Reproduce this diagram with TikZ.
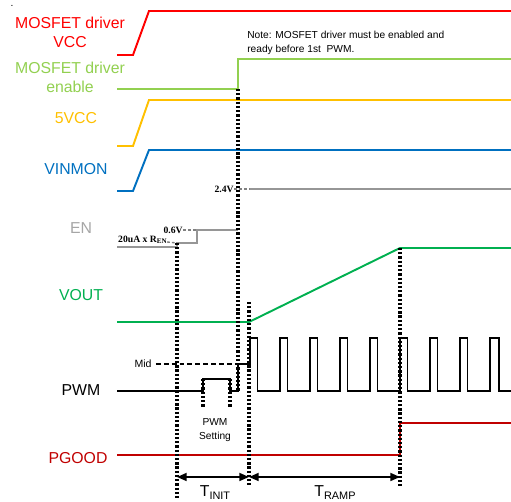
\documentclass[tikz,border=0pt]{standalone}
\usepackage{fontspec}
\setmainfont{Liberation Sans}
\newfontfamily\tnr{Liberation Serif}
\usepackage{tikz}
\usetikzlibrary{arrows.meta}
\definecolor{vccred}{HTML}{FF0000}
\definecolor{enlime}{HTML}{92D050}
\definecolor{fivegold}{HTML}{FFC000}
\definecolor{vinblue}{HTML}{0070C0}
\definecolor{engrey}{HTML}{969696}
\definecolor{enlabel}{HTML}{A6A6A6}
\definecolor{voutgreen}{HTML}{00B050}
\definecolor{pgred}{HTML}{C00000}
\newcommand{\sub}[1]{\raisebox{-0.35ex}{\fontsize{6.2}{7}\selectfont #1}}

\begin{document}
\begin{tikzpicture}[x=0.02cm,y=-0.02cm,
 sig/.style={line width=1.1pt},
 lbl/.style={font=\fontsize{9}{10.8}\selectfont,align=center,inner sep=0pt},
 vtag/.style={font=\tnr\bfseries\fontsize{5.5}{6}\selectfont,inner sep=0pt},
 small/.style={font=\fontsize{5.8}{7.6}\selectfont,inner sep=0pt},
 guide/.style={line width=2pt,dash pattern=on 1.3pt off 1.1pt},
 tick/.style={gray,line width=0.8pt,dash pattern=on 1.6pt off 1.2pt},
 span/.style={{Triangle[length=5.5pt,width=4.5pt]}-{Triangle[length=5.5pt,width=4.5pt]},line width=1.1pt}
]
\useasboundingbox (0,0) rectangle (511,502);
\node[small] (dot) at (12,6) {.};

% signal names
\node[lbl,text=vccred] (lvcc) at (70,32) {MOSFET driver\\VCC};
\node[lbl,text=enlime] (lenable) at (70,77) {MOSFET driver\\enable};
\node[lbl,text=fivegold] (l5v) at (76,118) {5VCC};
\node[lbl,text=vinblue] (lvin) at (76,169) {VINMON};
\node[lbl,text=enlabel] (len) at (81,228) {EN};
\node[lbl,text=voutgreen] (lvout) at (81,295) {VOUT};
\node[lbl] (lpwm) at (81,390) {PWM};
\node[lbl,text=pgred] (lpg) at (78,458) {PGOOD};

\node[small,align=left,anchor=west] (note) at (247,43) {Note: MOSFET driver must be enabled and\\ready before 1st\ \ PWM.};

% waveforms
\draw[sig,vccred] (117,55)--(133,55)--(149,11)--(511,11);
\draw[sig,enlime] (117,89)--(238,89)--(238,59)--(511,59);
\draw[sig,fivegold] (117,146)--(133,146)--(149,100)--(511,100);
\draw[sig,vinblue] (117,191)--(133,191)--(149,150)--(511,150);
\draw[sig,engrey,line width=0.9pt] (117,247)--(177,247)--(177,243)--(197,243)--(197,230)--(238,230);
\draw[sig,engrey,line width=0.9pt] (250,189)--(511,189);
\draw[sig,voutgreen] (117,322)--(249,322)--(400,248)--(511,248);
\draw[sig,pgred] (117,455)--(400,455)--(400,423)--(511,423);
\draw[sig,line join=miter] (117,391)--(203,391)--(203,379)--(230,379)--(230,391)--(238,391)--(238,364)--(250,364)--(250,338)
  foreach \k in {1,...,8} { -- ++(7.5,0) -- ++(0,53) -- ++(22.5,0) -- ++(0,-53) } -- ++(9,0) -- ++(0,53) -- (511,391);

% thresholds
\node[vtag,anchor=east] (v24) at (234,189) {2.4V};
\draw[tick] (v24.east) -- (250,189);
\node[vtag,anchor=east] (v06) at (183,230) {0.6V};
\draw[tick] (v06.east) -- (197,230);
\node[vtag,anchor=east] (ven) at (167,240) {20uA x R\raisebox{-0.3ex}{\fontsize{4}{5}\selectfont EN}};
\draw[tick] (ven.east) ++(0,2) -- (177,243);
\node[small,font=\fontsize{6}{7}\selectfont] (lmid) at (143,364) {Mid};
\draw[line width=1.2pt,dash pattern=on 2.8pt off 1.7pt] (lmid.east) ++(4,0) -- (249,364);
\node[small,align=center] (lset) at (215,430) {PWM\\Setting};

% timing markers
\draw[guide] (177,243)--(177,498);
\draw[guide] (203,379)--(203,408);
\draw[guide] (230,379)--(230,408);
\draw[guide] (238,89)--(238,391);
\draw[guide] (249,302)--(249,485);
\draw[guide] (400,248)--(400,488);

\coordinate (t0) at (177,477);
\coordinate (t1) at (249,477);
\coordinate (t2) at (400,477);
\draw[span] (t0)--(t1);
\draw[span] (t1)--(t2);
\node[lbl] (tinit) at (215,493) {T\sub{INIT}};
\node[lbl] (tramp) at (335,493) {T\sub{RAMP}};
\end{tikzpicture}
\end{document}
